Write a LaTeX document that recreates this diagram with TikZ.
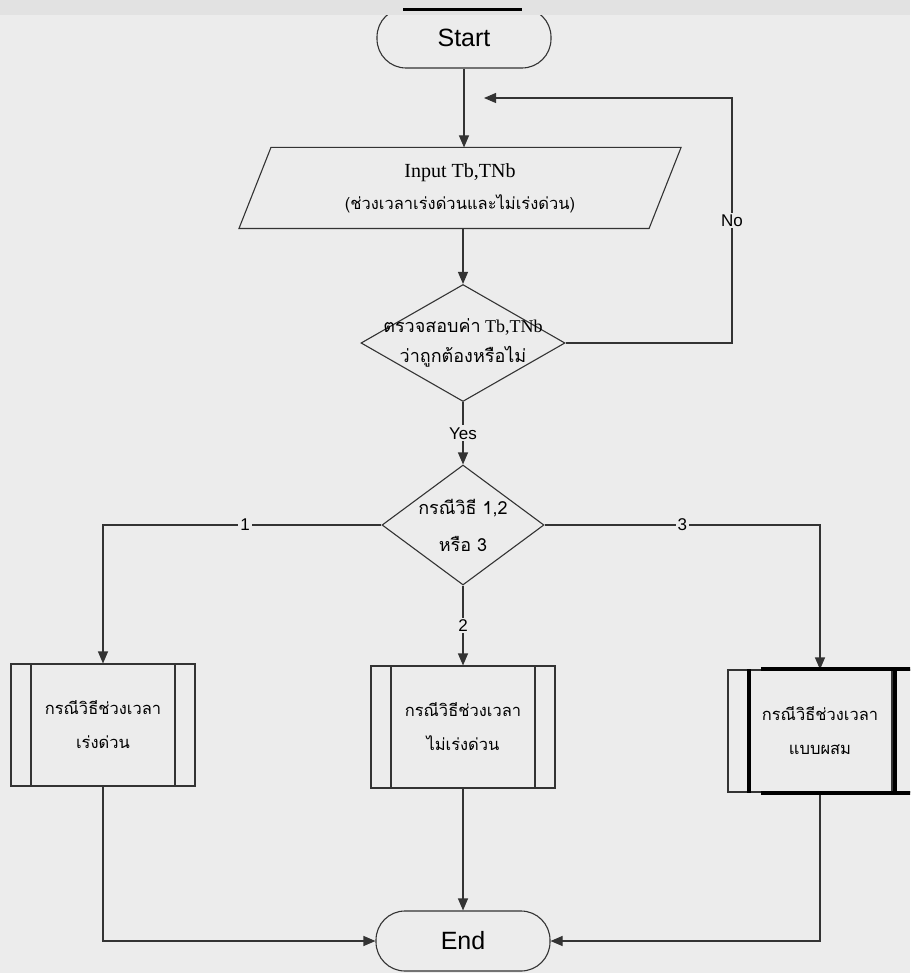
\documentclass[tikz,border=0pt]{standalone}
\usepackage{fontspec}
\setmainfont{Liberation Serif}
\setsansfont{Liberation Sans}
\newfontfamily\thaifont[Script=Thai]{Loma}
\usetikzlibrary{arrows.meta,shapes.geometric}
\definecolor{paper}{gray}{0.925}
\definecolor{band}{gray}{0.885}
\definecolor{ink}{gray}{0.2}

\begin{document}
\begin{tikzpicture}[x=1pt,y=-1pt,line width=1.1pt,>={Triangle[length=12pt,width=10pt]},
  term/.style={draw=ink,rounded corners=29pt,minimum width=174pt,minimum height=60pt,inner sep=0pt,font=\sffamily\fontsize{25}{25}\selectfont},
  inbox/.style={minimum width=441pt,minimum height=80pt,inner sep=0pt,align=center,font=\fontsize{20}{32}\selectfont},
  decision/.style={diamond,draw=ink,inner sep=0pt},
  proc/.style={draw=ink,minimum width=184pt,minimum height=122pt,inner sep=0pt,align=center,
    font=\thaifont\fontsize{16.5}{34}\selectfont,
    path picture={\draw[ink,line width=1.1pt]
      ([xshift=20pt]path picture bounding box.north west) -- ([xshift=20pt]path picture bounding box.south west)
      ([xshift=-20pt]path picture bounding box.north east) -- ([xshift=-20pt]path picture bounding box.south east);}},
  line/.style={draw=ink,line width=1.1pt},
  lbl/.style={fill=paper,inner sep=2pt,font=\sffamily\fontsize{17}{17}\selectfont}]
\useasboundingbox (0,0) rectangle (910,973);
\clip (0,0) rectangle (910,973);
\fill[paper] (0,0) rectangle (910,973);
% nodes
\node[term] (start) at (464,38) {Start};
\node[inbox] (input) at (460,188) {Input Tb,TNb\\{\thaifont\fontsize{16.5}{32}\selectfont (ช่วงเวลาเร่งด่วนและไม่เร่งด่วน)}};
\draw[line] (input.south west) -- ([xshift=-32pt]input.south east) -- (input.north east) -- ([xshift=32pt]input.north west) -- cycle;
\node[decision,minimum width=204pt,minimum height=117pt,
  label={[align=center,font=\fontsize{18}{30}\selectfont]center:{\thaifont ตรวจสอบค่า} Tb,TNb\\{\thaifont ว่าถูกต้องหรือไม่}}] (check) at (463,343) {};
\node[decision,minimum width=162pt,minimum height=120pt,
  label={[align=center,font=\thaifont\fontsize{18}{37}\selectfont]center:กรณีวิธี 1,2\\หรือ 3}] (cases) at (463,525) {};
\node[proc] (box1) at (103,725) {กรณีวิธีช่วงเวลา\\เร่งด่วน};
\node[proc] (box2) at (463,727) {กรณีวิธีช่วงเวลา\\ไม่เร่งด่วน};
\node[proc] (box3) at (820,731) {กรณีวิธีช่วงเวลา\\แบบผสม};
\node[term] (end) at (463,941) {End};
\coordinate (loopturn) at (732,98);
\coordinate (loopin) at (484,98);
% connectors
\draw[line,->] (start.south) -- (start.south |- input.north);
\draw[line,->] (check.north |- input.south) -- (check.north);
\draw[line,->] (check.east) -| node[lbl,pos=0.75] {No} (loopturn) -- (loopin);
\draw[line,->] (check.south) -- node[lbl] {Yes} (cases.north);
\draw[line,->] (cases.west) -| node[lbl,pos=0.245] {1} (box1.north);
\draw[line,->] (cases.south) -- node[lbl] {2} (box2.north);
\draw[line,->] (cases.east) -| node[lbl,pos=0.25] {3} (box3.north);
\draw[line,->] (box1.south) |- (end.west);
\draw[line,->] (box2.south) -- (end.north);
\draw[line,->] (box3.south) |- (end.east);
% heavy strokes on the third box
\draw[line width=4pt,black] ([xshift=22pt]box3.north west) -- ([xshift=22pt]box3.south west);
\draw[line width=4pt,black] ([xshift=-18pt]box3.north east) -- ([xshift=-18pt]box3.south east);
\draw[line width=4pt,black] ([xshift=34pt]box3.north west) -- (box3.north east);
\draw[line width=4pt,black] ([xshift=34pt]box3.south west) -- (box3.south east);
% top strip
\fill[band] (0,0) rectangle (910,15);
\fill[black] (403,8) rectangle (522,11);
\end{tikzpicture}
\end{document}
